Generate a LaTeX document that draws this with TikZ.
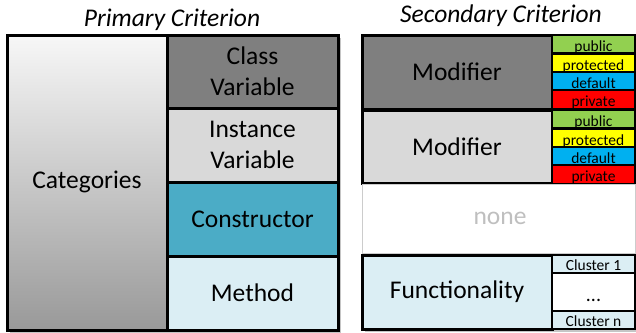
\documentclass[tikz,border=0pt]{standalone}
\usepackage{fontspec}
\setmainfont{Carlito}
\usetikzlibrary{shadows}

\definecolor{clsgray}{HTML}{7F7F7F}
\definecolor{instgray}{HTML}{D9D9D9}
\definecolor{ctorblue}{HTML}{4BACC6}
\definecolor{methblue}{HTML}{DBEEF4}
\definecolor{pubgreen}{HTML}{92D050}
\definecolor{protyellow}{HTML}{FFFF00}
\definecolor{dfltblue}{HTML}{00B0F0}
\definecolor{privred}{HTML}{FF0000}

\tikzset{
  lbl/.style={font=\fontsize{25.5}{31}\selectfont,align=center},
  tag/.style={font=\fontsize{15.5}{18}\selectfont,anchor=base,inner sep=0pt},
  heading/.style={font=\fontsize{25.5}{28}\selectfont\itshape,anchor=base},
  panelshadow/.style={fill=white,drop shadow={shadow xshift=3pt,shadow yshift=-3pt,fill=black!45,opacity=.5}},
}

\begin{document}
\begin{tikzpicture}[x=1pt,y=-1pt,line width=3pt]
  \useasboundingbox (0,0) rectangle (636,332);

  \node[heading] (prim) at (172,26) {Primary Criterion};
  \node[heading] (sec) at (501,22) {Secondary Criterion};

  % left panel: categories and the four member kinds
  \path[panelshadow] (7,35) rectangle (338,330);
  \path[draw,top color=black!3,bottom color=black!40] (7,35) rectangle (167,330);
  \path[draw,fill=clsgray] (167,35) rectangle (338,108);
  \path[draw,fill=instgray] (167,108) rectangle (338,182);
  \path[draw,fill=ctorblue] (167,182) rectangle (338,256);
  \path[draw,fill=methblue] (167,256) rectangle (338,330);
  \draw (7,35) rectangle (338,330);

  \node[lbl] (cat) at (87,182) {Categories};
  \node[lbl] (clsvar) at (252.5,71.5) {Class\\Variable};
  \node[lbl] (instvar) at (252.5,145) {Instance\\Variable};
  \node[lbl] (ctor) at (252.5,219) {Constructor};
  \node[lbl] (meth) at (252.5,293) {Method};

  % right panel: modifier blocks with their access levels
  \path[panelshadow] (362,35) rectangle (635,329);
  \path[draw,fill=clsgray] (362,35) rectangle (552,109);
  \path[draw,fill=instgray] (362,110) rectangle (552,183);
  \node[lbl] (mod1) at (457,72) {Modifier};
  \node[lbl] (mod2) at (457,146.5) {Modifier};

  \foreach \y/\blk in {35/a,110/b}
    \foreach \t/\c [count=\i from 0] in {public/pubgreen,protected/protyellow,default/dfltblue,private/privred} {
      \path[draw,line width=2.2pt,fill=\c] (552,\y+\i*18.4) rectangle (635,\y+\i*18.4+18.4);
      \node[tag] (acc-\blk\i) at (593.5,\y+\i*18.4+16.6) {\t};
    }

  \path[draw,line width=1pt,draw=black!20,fill=white] (362,184) rectangle (635,253);
  \node[lbl,text=black!25] (none) at (500,218) {none};

  % functionality split into clusters
  \path[draw,fill=methblue] (362,255) rectangle (552,329);
  \path[draw,line width=2.2pt,fill=methblue] (552,255) rectangle (635,273);
  \path[draw,line width=2.2pt,fill=white] (552,273) rectangle (635,311);
  \path[draw,line width=2.2pt,fill=methblue] (552,311) rectangle (635,329);
  \node[lbl] (func) at (457,292) {Functionality};
  \node[tag] (cl1) at (593.5,270) {Cluster 1};
  \node[tag,font=\fontsize{20}{20}\selectfont] (cldots) at (593.5,301) {...};
  \node[tag] (cln) at (593.5,326) {Cluster n};
\end{tikzpicture}
\end{document}
